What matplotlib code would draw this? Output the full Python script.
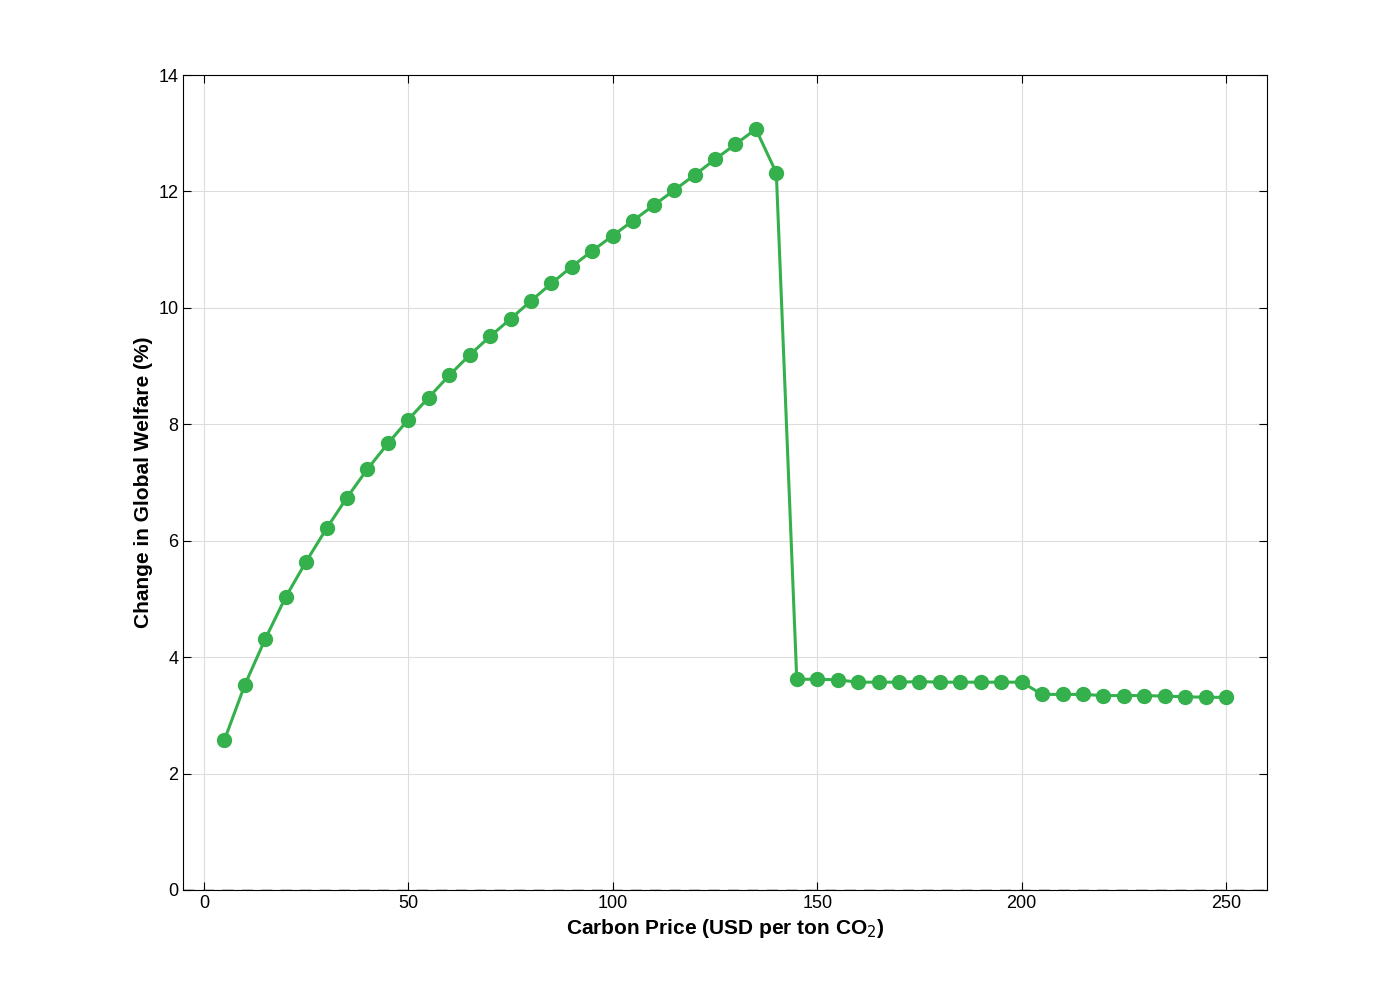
import matplotlib
matplotlib.use("Agg")
import matplotlib.pyplot as plt

plt.rcParams['font.family'] = ['Liberation Sans', 'DejaVu Sans']

# 碳价 (USD/吨) 与全球福利变化 (%)
carbon_price = list(range(5, 255, 5))
welfare_change = [2.57, 3.52, 4.31, 5.03, 5.64, 6.21, 6.74, 7.23, 7.67, 8.08,
                  8.46, 8.84, 9.19, 9.51, 9.81, 10.12, 10.42, 10.71, 10.98, 11.24,
                  11.50, 11.76, 12.02, 12.28, 12.55, 12.81, 13.07, 12.32, 3.62, 3.62,
                  3.61, 3.57, 3.57, 3.57, 3.58, 3.57, 3.57, 3.57, 3.57, 3.57,
                  3.36, 3.36, 3.36, 3.34, 3.34, 3.34, 3.33, 3.32, 3.31, 3.31]

fig = plt.figure(figsize=(14, 10), dpi=100)
ax = fig.add_axes([0.131, 0.11, 0.774, 0.815])

ax.plot([-5, 260], [0, 0], color='black', linestyle=(0, (8, 6)), linewidth=1)
ax.plot(carbon_price, welfare_change, color='#34b04c', linewidth=2.2,
        marker='o', markersize=10)

ax.set_xlim(-5, 260)
ax.set_ylim(0, 14)
ax.set_xticks([0, 50, 100, 150, 200, 250])
ax.set_yticks(range(0, 15, 2))
ax.grid(True, color='#dddddd', linewidth=0.8)
ax.set_axisbelow(True)
ax.tick_params(direction='in', top=True, right=True, labelsize=13, length=6)
for s in ax.spines.values():
    s.set_linewidth(0.8)

ax.set_xlabel('Carbon Price (USD per ton CO$_2$)', fontsize=15, fontweight='bold')
ax.set_ylabel('Change in Global Welfare (%)', fontsize=15, fontweight='bold')

fig.savefig('out.png')
